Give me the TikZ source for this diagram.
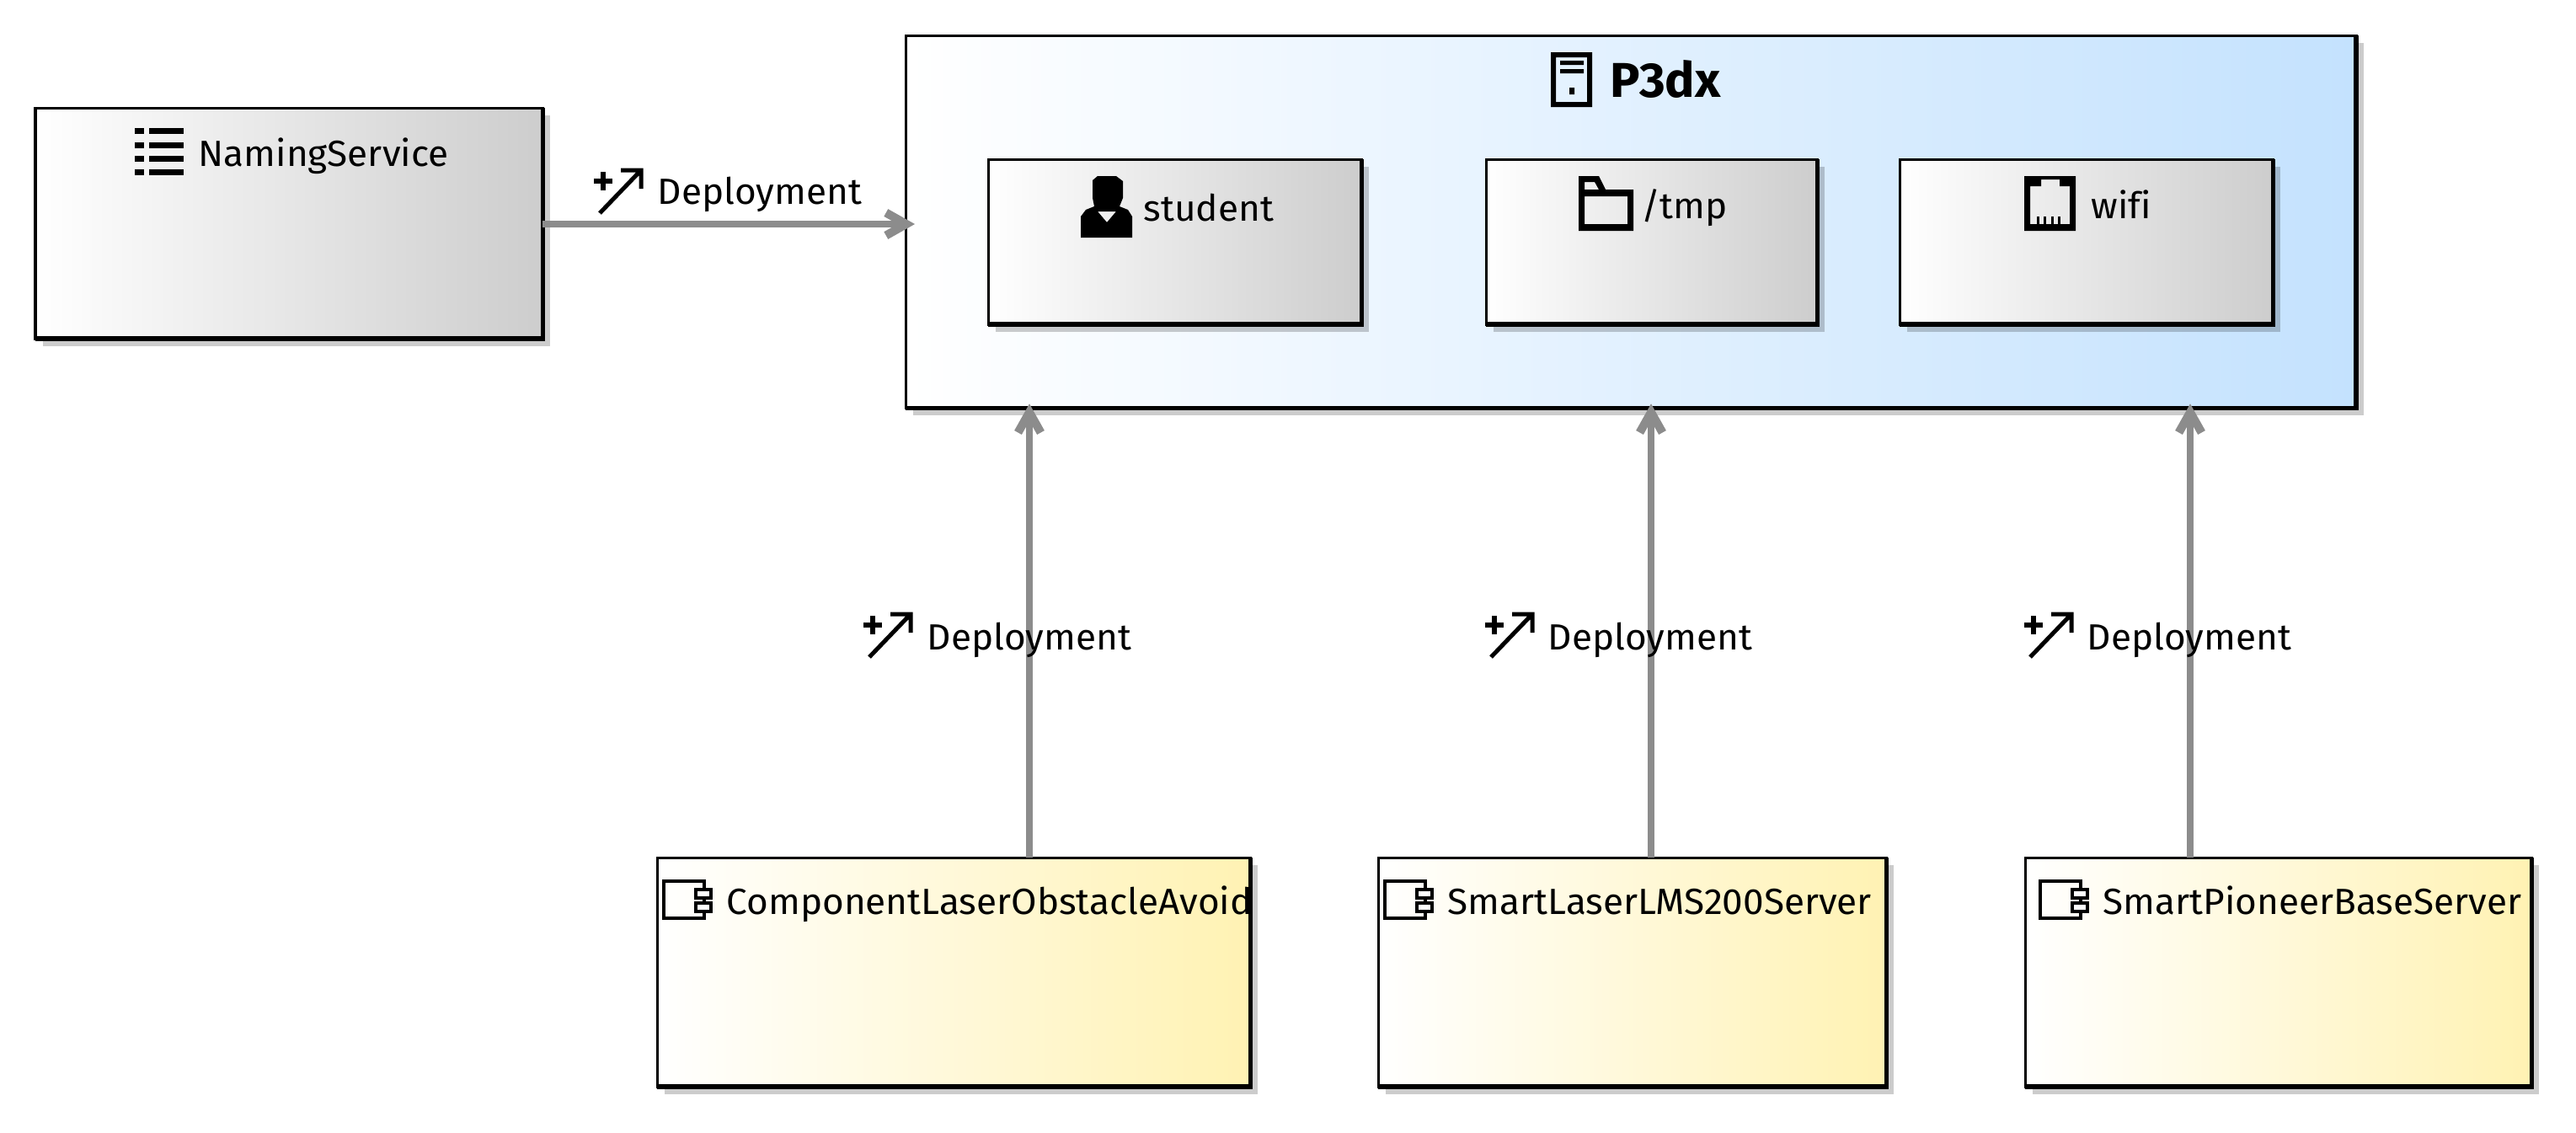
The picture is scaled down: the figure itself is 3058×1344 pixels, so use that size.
\documentclass[tikz,border=0pt]{standalone}
\usepackage{fontspec}
\setmainfont[FakeStretch=1.02,Ligatures=NoCommon]{Fira Sans}
\usetikzlibrary{arrows.meta,shadows}
\definecolor{grayend}{HTML}{CDCDCD}
\definecolor{blueend}{HTML}{C4E2FE}
\definecolor{yellowend}{HTML}{FFF2B3}
\definecolor{linkgray}{HTML}{8C8C8C}
\tikzset{
  box/.style={draw=black,line width=.03cm,left color=white,inner sep=0pt,outer sep=0pt,
    anchor=north west,drop shadow={shadow xshift=.09cm,shadow yshift=-.09cm,fill=black,opacity=.2}},
  artifact/.style={box,right color=grayend},
  device/.style={box,right color=blueend},
  component/.style={box,right color=yellowend},
  edge/.style={line width=.055cm},
  deploy/.style={draw=linkgray,line width=.08cm,-{Straight Barb[sharp,length=.24cm,width=.27cm,line width=.1cm]},shorten >=-.05cm},
  txt/.style={anchor=base west,inner sep=0pt,font=\fontsize{12.3}{14}\selectfont},
  pics/wand/.style={code={
    \draw[line width=.065cm] (0,15) -- (22,15) (11,4) -- (11,26);
    \draw[line width=.05cm] (7,53) -- (56,2) (32,2) -- (56,2) -- (56,24);
  }},
  pics/compicon/.style={code={
    \draw[line width=.035cm] (0,0) rectangle (48,44);
    \draw[line width=.035cm,fill=white] (38,10) rectangle (56,20) (38,26) rectangle (56,36);
  }},
  pics/listicon/.style={code={
    \foreach \y in {1,18,34,50} {
      \fill (0,\y) rectangle (11,\y+7);
      \fill (17,\y) rectangle (58,\y+7);
    }
  }},
  pics/servericon/.style={code={
    \fill[even odd rule] (0,0) rectangle (49,65) (6,6) rectangle (43,59);
    \fill (11,10) rectangle (39,15) (11,20) rectangle (39,25) (22,42) rectangle (28,50);
  }},
  pics/usericon/.style={code={
    \fill[even odd rule] (14,5) -- (20,0) -- (42,0) -- (50,6) -- (50,26) -- (46,36) -- (56,40) -- (61,48)
      -- (61,73) -- (0,73) -- (0,48) -- (6,40) -- (16,36) -- (14,26) -- cycle
      (20,42) -- (42,42) -- (31,55) -- cycle;
  }},
  pics/foldericon/.style={code={
    \fill[even odd rule] (0,0) -- (24,0) -- (32,16) -- (65,16) -- (65,65) -- (0,65) -- cycle
      (7,7) -- (19,7) -- (24,16) -- (7,16) -- cycle
      (7,24) rectangle (58,57);
  }},
  pics/porticon/.style={code={
    \fill[even odd rule] (0,0) rectangle (61,65)
      (20,4) -- (42,4) -- (42,12) -- (54,12) -- (54,57) -- (7,57) -- (7,12) -- (20,12) -- cycle;
    \foreach \x in {15,23,32,40}
      \fill (\x,48) rectangle (\x+3,58);
  }},
}
\begin{document}
\begin{tikzpicture}[x=.01cm,y=-.01cm]
  \useasboundingbox (0,0) rectangle (3058,1344);
  % artifacts
  \node[artifact,minimum width=6.02cm,minimum height=2.74cm] at (42,128) (NS) {};
  \node[device,minimum width=17.21cm,minimum height=4.42cm] at (1075,42) (P3) {};
  \node[artifact,minimum width=4.43cm,minimum height=1.96cm] at (1173,189) (ST) {};
  \node[artifact,minimum width=3.93cm,minimum height=1.96cm] at (1764,189) (TM) {};
  \node[artifact,minimum width=4.43cm,minimum height=1.96cm] at (2255,189) (WF) {};
  % components
  \node[component,minimum width=7.04cm,minimum height=2.72cm] at (780,1018) (C1) {};
  \node[component,minimum width=6.03cm,minimum height=2.72cm] at (1636,1018) (C2) {};
  \node[component,minimum width=6.01cm,minimum height=2.72cm] at (2404,1018) (C3) {};
  \foreach \n in {NS,P3,ST,TM,WF,C1,C2,C3}
    \draw[edge] (\n.north east) -- (\n.south east) -- (\n.south west);
  % connectors
  \coordinate (X1) at (1222,0);
  \coordinate (X2) at (1960,0);
  \coordinate (X3) at (2600,0);
  \coordinate (Y0) at (0,266);
  \draw[deploy,shorten >=-.11cm] (NS.east |- Y0) -- (P3.west |- Y0);
  \draw[deploy] (X1 |- C1.north) -- (X1 |- P3.south);
  \draw[deploy] (X2 |- C2.north) -- (X2 |- P3.south);
  \draw[deploy] (X3 |- C3.north) -- (X3 |- P3.south);
  % labels
  \node[txt] at (235,197) (NSl) {NamingService};
  \node[txt,font=\fontsize{16.5}{18}\selectfont\bfseries] at (1911,115) (P3l) {P3dx};
  \node[txt] at (1357,262) (STl) {student};
  \node[txt] at (1948,259) (TMl) {/tmp};
  \node[txt] at (2482,259) (WFl) {wifi};
  \node[txt] at (862,1085) (C1l) {ComponentLaserObstacleAvoid};
  \node[txt] at (1718,1085) (C2l) {SmartLaserLMS200Server};
  \node[txt] at (2496,1085) (C3l) {SmartPioneerBaseServer};
  \node[txt] at (780,242) (D0) {Deployment};
  \node[txt] at (1100,771) (D1) {Deployment};
  \node[txt] at (1837,771) (D2) {Deployment};
  \node[txt] at (2477,771) (D3) {Deployment};
  % icons
  \pic at (705,200) {wand};
  \pic at (1025,727) {wand};
  \pic at (1763,727) {wand};
  \pic at (2403,727) {wand};
  \pic at (160,151) {listicon};
  \pic at (1841,62) {servericon};
  \pic at (1283,209) {usericon};
  \pic at (1874,209) {foldericon};
  \pic at (2403,209) {porticon};
  \pic at (788,1046) {compicon};
  \pic at (1644,1046) {compicon};
  \pic at (2422,1046) {compicon};
\end{tikzpicture}
\end{document}
